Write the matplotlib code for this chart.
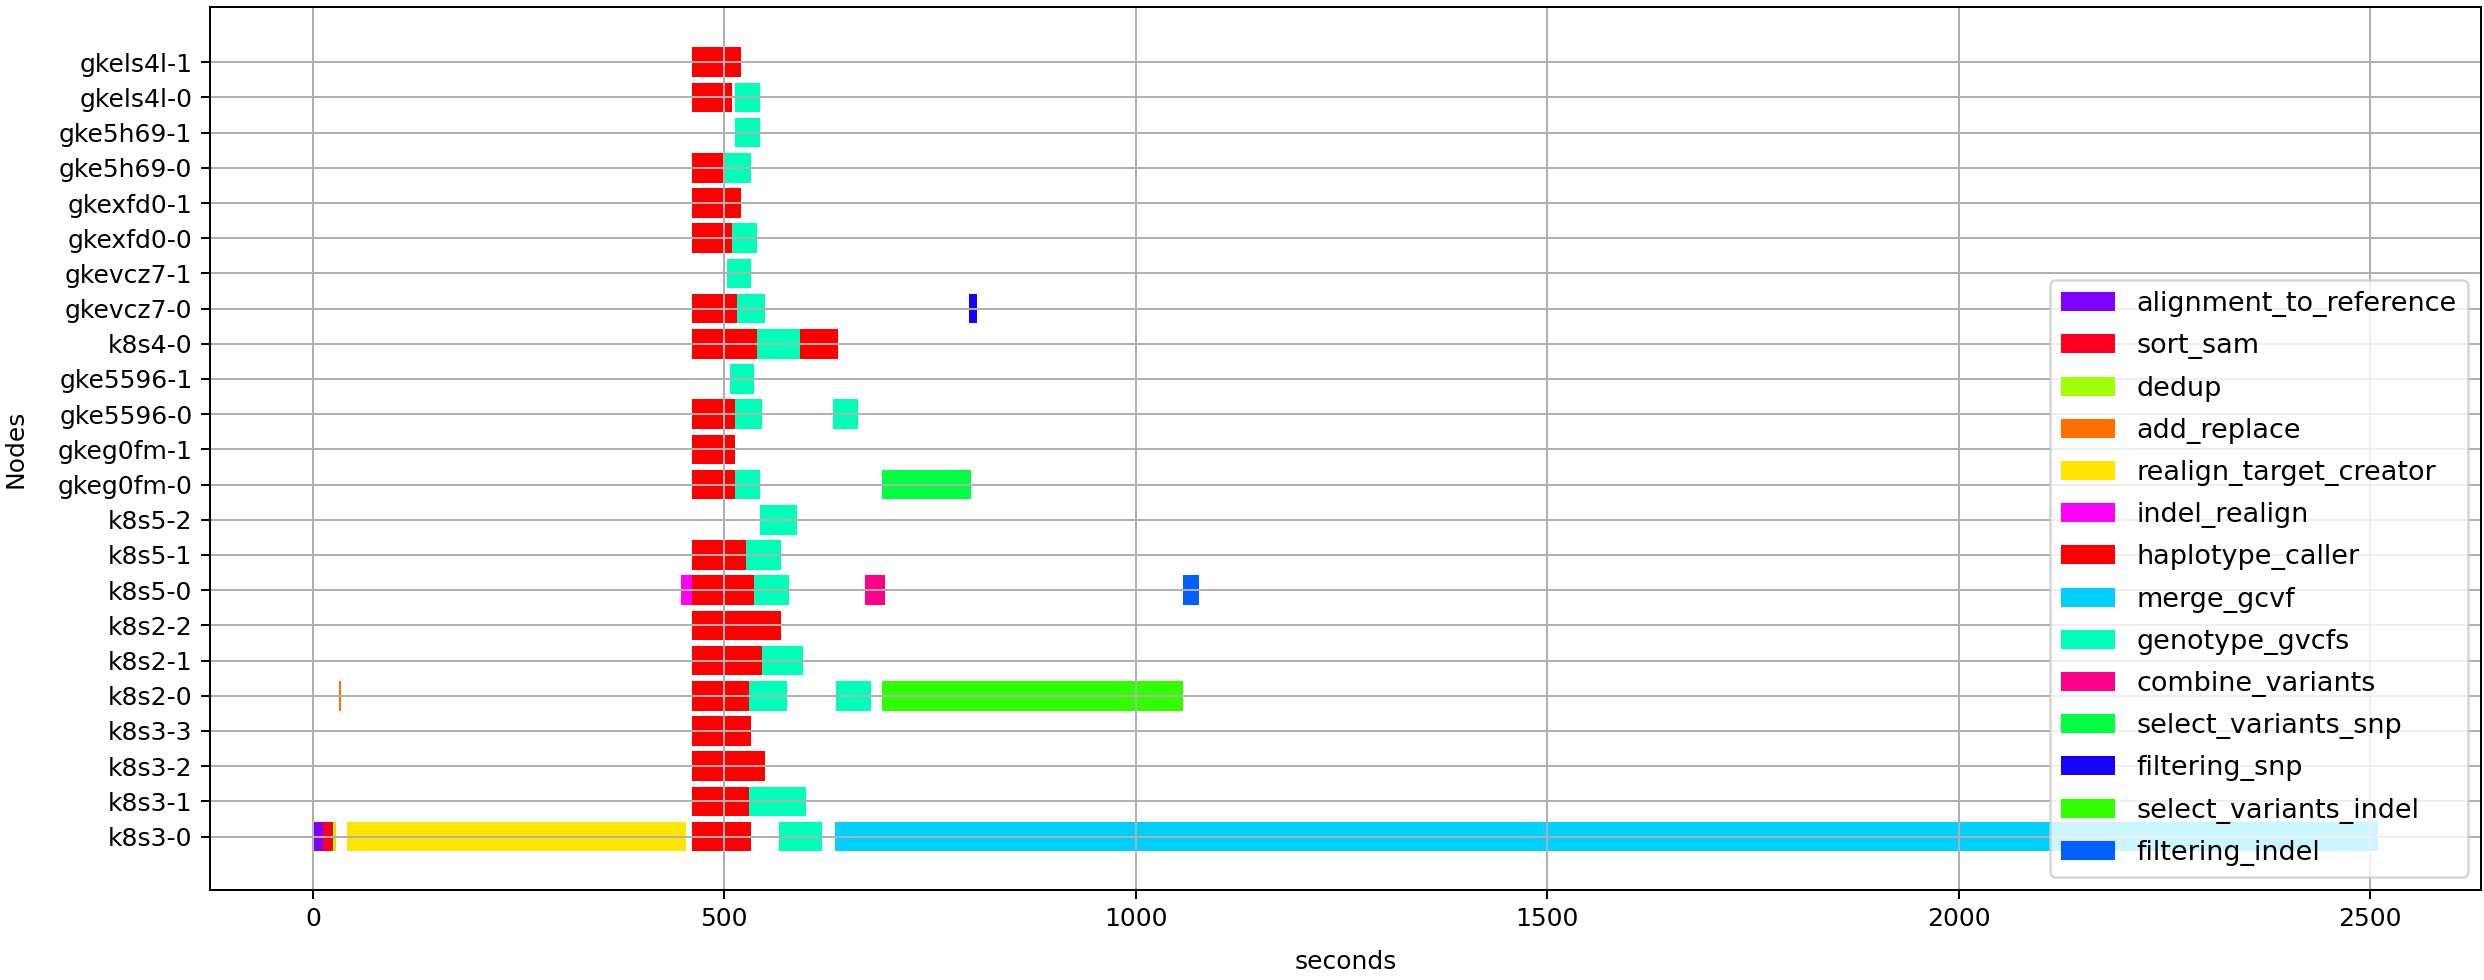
import matplotlib
matplotlib.use("Agg")
import matplotlib.pyplot as plt
from matplotlib.patches import Patch

# nodes, bottom row first
nodes = ['k8s3-0', 'k8s3-1', 'k8s3-2', 'k8s3-3', 'k8s2-0', 'k8s2-1', 'k8s2-2',
         'k8s5-0', 'k8s5-1', 'k8s5-2', 'gkeg0fm-0', 'gkeg0fm-1', 'gke5596-0',
         'gke5596-1', 'k8s4-0', 'gkevcz7-0', 'gkevcz7-1', 'gkexfd0-0',
         'gkexfd0-1', 'gke5h69-0', 'gke5h69-1', 'gkels4l-0', 'gkels4l-1']

tasks = ['alignment_to_reference', 'sort_sam', 'dedup', 'add_replace',
         'realign_target_creator', 'indel_realign', 'haplotype_caller',
         'merge_gcvf', 'genotype_gvcfs', 'combine_variants',
         'select_variants_snp', 'filtering_snp', 'select_variants_indel',
         'filtering_indel']

task_colors = ['#8000ff', '#ff0020', '#a0ff00', '#ff7000', '#ffe500', '#ff00f8',
               '#ff0000', '#00d0ff', '#00ffb8', '#ff0088', '#00ff40', '#1800ff',
               '#30ff00', '#0060ff']

# one entry per executed step: node, task, start (s), end (s)
seg_node = ['k8s3-0', 'k8s3-0', 'k8s3-0', 'k8s3-0', 'k8s3-0', 'k8s3-0', 'k8s3-0',
            'k8s3-1', 'k8s3-1',
            'k8s3-2',
            'k8s3-3',
            'k8s2-0', 'k8s2-0', 'k8s2-0', 'k8s2-0', 'k8s2-0',
            'k8s2-1', 'k8s2-1',
            'k8s2-2',
            'k8s5-0', 'k8s5-0', 'k8s5-0', 'k8s5-0', 'k8s5-0',
            'k8s5-1', 'k8s5-1',
            'k8s5-2',
            'gkeg0fm-0', 'gkeg0fm-0', 'gkeg0fm-0',
            'gkeg0fm-1',
            'gke5596-0', 'gke5596-0', 'gke5596-0',
            'gke5596-1',
            'k8s4-0', 'k8s4-0', 'k8s4-0',
            'gkevcz7-0', 'gkevcz7-0', 'gkevcz7-0',
            'gkevcz7-1',
            'gkexfd0-0', 'gkexfd0-0',
            'gkexfd0-1',
            'gke5h69-0', 'gke5h69-0',
            'gke5h69-1',
            'gkels4l-0', 'gkels4l-0',
            'gkels4l-1']
seg_task = ['alignment_to_reference', 'sort_sam', 'dedup', 'realign_target_creator',
            'haplotype_caller', 'genotype_gvcfs', 'merge_gcvf',
            'haplotype_caller', 'genotype_gvcfs',
            'haplotype_caller',
            'haplotype_caller',
            'add_replace', 'haplotype_caller', 'genotype_gvcfs', 'genotype_gvcfs',
            'select_variants_indel',
            'haplotype_caller', 'genotype_gvcfs',
            'haplotype_caller',
            'indel_realign', 'haplotype_caller', 'genotype_gvcfs', 'combine_variants',
            'filtering_indel',
            'haplotype_caller', 'genotype_gvcfs',
            'genotype_gvcfs',
            'haplotype_caller', 'genotype_gvcfs', 'select_variants_snp',
            'haplotype_caller',
            'haplotype_caller', 'genotype_gvcfs', 'genotype_gvcfs',
            'genotype_gvcfs',
            'haplotype_caller', 'genotype_gvcfs', 'haplotype_caller',
            'haplotype_caller', 'genotype_gvcfs', 'filtering_snp',
            'genotype_gvcfs',
            'haplotype_caller', 'genotype_gvcfs',
            'haplotype_caller',
            'haplotype_caller', 'genotype_gvcfs',
            'genotype_gvcfs',
            'haplotype_caller', 'genotype_gvcfs',
            'haplotype_caller']
seg_start = [0.7, 12.2, 25, 41, 461, 566, 635,
             461, 530,
             461,
             461,
             31.6, 461, 530, 636, 692,
             461, 546,
             461,
             447, 461, 536, 671, 1057,
             461, 527,
             543,
             461, 513, 692,
             461,
             461, 513, 632,
             507,
             461, 540, 592,
             461, 516, 797,
             503,
             461, 510,
             461,
             461, 501,
             513,
             461, 513,
             461]
seg_end = [12.2, 25, 28, 454, 533, 619, 2510,
           530, 599,
           549,
           533,
           34, 530, 576, 678, 1058,
           546, 596,
           569,
           461, 536, 579, 695, 1077,
           527, 569,
           589,
           513, 543, 800,
           513,
           513, 546, 662,
           536,
           540, 592, 638,
           516, 549, 807,
           533,
           510, 540,
           520,
           501, 533,
           543,
           510, 543,
           520]

plt.rcParams['font.size'] = 10
fig, ax = plt.subplots(figsize=(13.8, 980 / 180), dpi=180)
fig.subplots_adjust(left=210 / 2484, right=2481 / 2484, top=1 - 7 / 980, bottom=1 - 890 / 980)

color_of = dict(zip(tasks, task_colors))
row_of = {n: i for i, n in enumerate(nodes)}
for n, t, s, e in zip(seg_node, seg_task, seg_start, seg_end):
    ax.barh(row_of[n], e - s, left=s, height=0.84, color=color_of[t], linewidth=0)

ax.set_yticks(range(len(nodes)))
ax.set_yticklabels(nodes)
ax.set_xticks([0, 500, 1000, 1500, 2000, 2500])
ax.set_xlim(-125, 2635)
ax.set_ylim(-1.52, 23.57)
ax.grid(True)
ax.set_xlabel('seconds', labelpad=7.5)
ax.set_ylabel('Nodes', labelpad=12)

handles = [Patch(facecolor=c, label=t) for t, c in zip(tasks, task_colors)]
ax.legend(handles=handles, loc='lower right', fontsize=10.8, labelspacing=0.6)

fig.savefig('out.png', dpi=180)
